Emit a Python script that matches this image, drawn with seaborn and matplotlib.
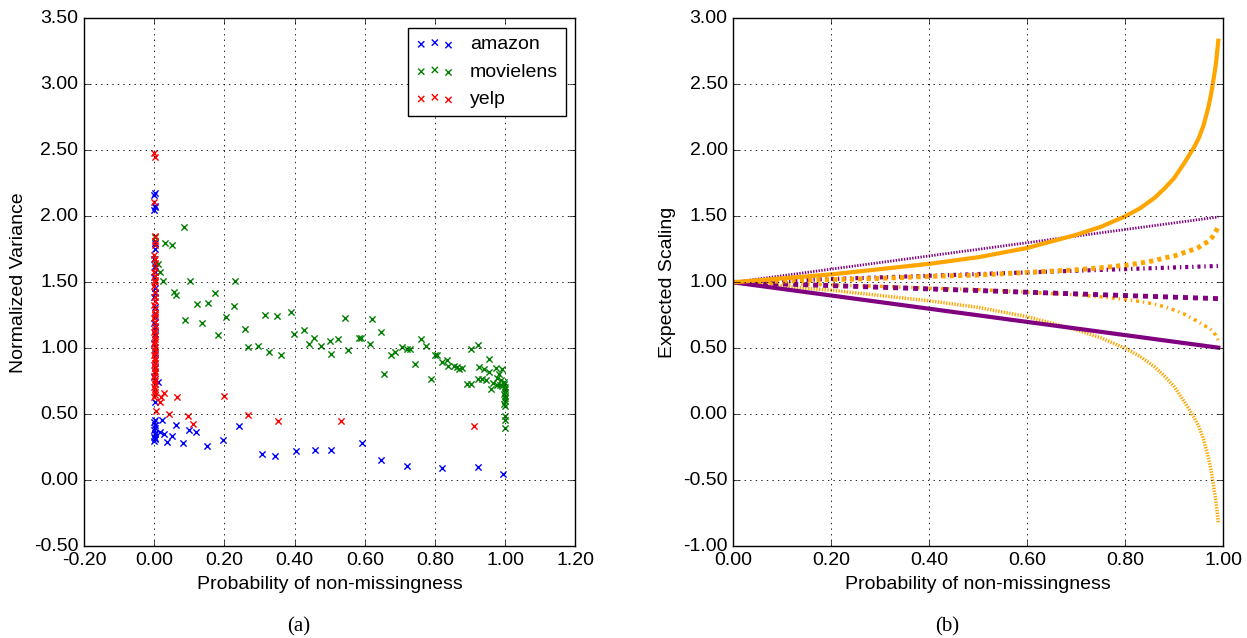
import matplotlib
matplotlib.use('Agg')
import matplotlib.pyplot as plt
import seaborn as sns
from matplotlib.ticker import FormatStrFormatter, MultipleLocator


# (a) scatter: probability of non-missingness vs normalized variance
AMAZON_X = [0.000, 0.001, 0.002, 0.000, 0.001, 0.002, 0.000, 0.001, 0.002, 0.000,
            0.001, 0.002, 0.000, 0.001, 0.002, 0.000, 0.001, 0.002, 0.000, 0.001,
            0.002, 0.000, 0.001, 0.002, 0.000, 0.001, 0.002, 0.000, 0.001, 0.002,
            0.000, 0.001, 0.002, 0.000, 0.001,
            0.012, 0.022, 0.061, 0.017, 0.029, 0.050, 0.098, 0.118, 0.037, 0.082,
            0.151, 0.196, 0.241, 0.306, 0.344, 0.403, 0.457, 0.503, 0.592, 0.645,
            0.721, 0.821, 0.921, 0.994]
AMAZON_Y = [0.30, 0.31, 0.32, 0.33, 0.35, 0.36, 0.38, 0.40, 0.42, 0.44,
            0.46, 0.59, 0.78, 0.86, 0.96, 1.04, 1.11, 1.16, 1.19, 1.24,
            1.31, 1.39, 1.42, 1.46, 1.54, 1.58, 1.62, 1.68, 1.755, 1.80,
            2.05, 2.07, 2.08, 2.16, 2.18,
            0.745, 0.455, 0.417, 0.366, 0.354, 0.336, 0.379, 0.366, 0.290, 0.285,
            0.260, 0.305, 0.410, 0.197, 0.187, 0.222, 0.227, 0.232, 0.283, 0.157,
            0.109, 0.096, 0.103, 0.045]

MOVIELENS_X = [0.002, 0.011, 0.016, 0.026, 0.032, 0.050, 0.084, 0.101, 0.230, 0.055,
               0.062, 0.172, 0.121, 0.152, 0.228, 0.087, 0.136, 0.204, 0.183, 0.259,
               0.316, 0.350, 0.390, 0.543, 0.398, 0.427, 0.454, 0.441, 0.474, 0.500,
               0.524, 0.583, 0.589, 0.552, 0.504, 0.268, 0.295, 0.327, 0.360, 0.621,
               0.615, 0.645, 0.654, 0.674, 0.686, 0.705, 0.720, 0.729, 0.742, 0.761,
               0.775, 0.788, 0.799, 0.806, 0.819, 0.833, 0.837, 0.854, 0.862, 0.869,
               0.878, 0.903, 0.923, 0.890, 0.902, 0.922, 0.924, 0.939, 0.953, 0.955,
               0.935, 0.945, 0.960, 0.966, 0.973, 0.976, 0.983, 0.990, 0.987, 0.975,
               0.985, 0.990, 0.995, 0.997, 1.000, 0.998, 1.000, 0.996, 1.000, 0.998,
               1.000, 0.997, 1.000, 1.000, 1.000, 1.000]
MOVIELENS_Y = [1.840, 1.636, 1.580, 1.510, 1.800, 1.780, 1.920, 1.510, 1.510, 1.424,
               1.407, 1.417, 1.336, 1.346, 1.320, 1.214, 1.190, 1.237, 1.098, 1.144,
               1.250, 1.245, 1.275, 1.227, 1.110, 1.136, 1.078, 1.035, 1.015, 1.058,
               1.073, 1.078, 1.080, 0.987, 0.957, 1.013, 1.015, 0.972, 0.947, 1.225,
               1.030, 1.121, 0.805, 0.947, 0.975, 1.010, 0.998, 0.998, 0.879, 1.068,
               1.015, 0.768, 0.952, 0.950, 0.894, 0.909, 0.866, 0.869, 0.859, 0.843,
               0.848, 0.992, 1.028, 0.727, 0.727, 0.770, 0.861, 0.843, 0.917, 0.820,
               0.765, 0.758, 0.692, 0.737, 0.851, 0.775, 0.805, 0.841, 0.763, 0.720,
               0.720, 0.715, 0.745, 0.730, 0.710, 0.690, 0.670, 0.655, 0.640, 0.620,
               0.600, 0.580, 0.560, 0.487, 0.455, 0.400]

YELP_X = [0.000, 0.001, 0.002, 0.003, 0.000, 0.001, 0.002, 0.003, 0.000, 0.001,
          0.002, 0.003, 0.000, 0.001, 0.002, 0.003, 0.000, 0.001, 0.002, 0.003,
          0.000, 0.001, 0.002, 0.003, 0.000, 0.001, 0.002, 0.003, 0.000, 0.001,
          0.002, 0.003, 0.000, 0.001, 0.002, 0.003, 0.000, 0.001, 0.002, 0.003,
          0.000, 0.001, 0.002, 0.003, 0.000, 0.001, 0.002, 0.003, 0.000, 0.001,
          0.000,
          0.004, 0.016, 0.020, 0.029, 0.041, 0.066, 0.096, 0.111, 0.198, 0.267,
          0.352, 0.533, 0.910]
YELP_Y = [0.63, 0.65, 0.67, 0.69, 0.71, 0.73, 0.75, 0.77, 0.79, 0.81,
          0.83, 0.85, 0.87, 0.89, 0.91, 0.93, 0.95, 0.97, 0.99, 1.01,
          1.03, 1.05, 1.07, 1.09, 1.12, 1.14, 1.17, 1.20, 1.23, 1.25,
          1.27, 1.30, 1.33, 1.36, 1.39, 1.43, 1.47, 1.50, 1.52, 1.55,
          1.58, 1.61, 1.65, 1.68, 1.71, 1.78, 1.81, 1.85, 2.11, 2.45,
          2.48,
          0.525, 0.590, 0.630, 0.660, 0.505, 0.630, 0.487, 0.430, 0.640, 0.495,
          0.447, 0.449, 0.414]

# (b) expected scaling curves
P_GRID = [0.0, 0.1, 0.2, 0.3, 0.4, 0.5, 0.6, 0.7, 0.75, 0.8, 0.83, 0.86, 0.88,
          0.9, 0.92, 0.94, 0.95, 0.96, 0.97, 0.975, 0.98, 0.985, 0.99]
ORANGE_SOLID = [1.00, 1.03, 1.06, 1.10, 1.14, 1.19, 1.26, 1.36, 1.42, 1.50, 1.56,
                1.64, 1.71, 1.79, 1.90, 2.02, 2.09, 2.19, 2.33, 2.42, 2.53, 2.65,
                2.83]
ORANGE_DOTTED = [1.00, 0.97, 0.94, 0.90, 0.86, 0.81, 0.74, 0.64, 0.58, 0.50, 0.44,
                 0.36, 0.29, 0.21, 0.10, -0.02, -0.09, -0.19, -0.33, -0.42, -0.53,
                 -0.65, -0.82]
ORANGE_DASHED = [1.00, 1.01, 1.02, 1.03, 1.045, 1.055, 1.075, 1.095, 1.11, 1.13,
                 1.145, 1.165, 1.185, 1.20, 1.225, 1.25, 1.265, 1.29, 1.31, 1.33,
                 1.355, 1.385, 1.425]
ORANGE_DASHDOT = [1.00, 0.99, 0.98, 0.97, 0.955, 0.945, 0.925, 0.905, 0.89, 0.87,
                  0.855, 0.835, 0.815, 0.79, 0.76, 0.72, 0.70, 0.675, 0.655, 0.64,
                  0.62, 0.60, 0.56]
PURPLE_SOLID = [1.00, 0.95, 0.90, 0.85, 0.80, 0.75, 0.70, 0.65, 0.625, 0.60, 0.585,
                0.57, 0.56, 0.55, 0.54, 0.53, 0.525, 0.52, 0.515, 0.5125, 0.51,
                0.5075, 0.505]
PURPLE_DOTTED = [1.00, 1.05, 1.10, 1.15, 1.20, 1.25, 1.30, 1.35, 1.375, 1.40, 1.415,
                 1.43, 1.44, 1.45, 1.46, 1.47, 1.475, 1.48, 1.485, 1.4875, 1.49,
                 1.4925, 1.495]
PURPLE_DASHDOT = [1.00, 1.0125, 1.025, 1.0375, 1.05, 1.0625, 1.075, 1.0875, 1.094,
                  1.10, 1.104, 1.1075, 1.11, 1.1125, 1.115, 1.1175, 1.119, 1.12,
                  1.121, 1.122, 1.1225, 1.123, 1.124]
PURPLE_DASHED = [1.00, 0.9875, 0.975, 0.9625, 0.95, 0.9375, 0.925, 0.9125, 0.906,
                 0.90, 0.896, 0.8925, 0.89, 0.8875, 0.885, 0.8825, 0.881, 0.88,
                 0.879, 0.878, 0.8775, 0.877, 0.876]

XLABEL = 'Probability of non-missingness'


def style_axes(ax):
    ax.grid(True, color='black', linestyle=':', linewidth=0.6)
    ax.xaxis.set_major_formatter(FormatStrFormatter('%.2f'))
    ax.yaxis.set_major_formatter(FormatStrFormatter('%.2f'))
    ax.set_xlabel(XLABEL)


def plot_scatter(ax):
    series = [
        (AMAZON_X, AMAZON_Y, 'b', 'amazon'),
        (MOVIELENS_X, MOVIELENS_Y, 'g', 'movielens'),
        (YELP_X, YELP_Y, 'r', 'yelp'),
    ]
    for xs, ys, color, name in series:
        sns.scatterplot(x=xs, y=ys, ax=ax, marker='x', color=color, s=20,
                        linewidth=1.0, label=name, legend=False)
    ax.set_xlim(-0.2, 1.2)
    ax.set_ylim(-0.5, 3.5)
    ax.xaxis.set_major_locator(MultipleLocator(0.2))
    ax.yaxis.set_major_locator(MultipleLocator(0.5))
    style_axes(ax)
    ax.set_ylabel('Normalized Variance')
    ax.legend(loc='upper right', scatterpoints=3, fontsize=14, fancybox=False)


def plot_curves(ax):
    curves = [
        (PURPLE_DOTTED, 'purple', 2.0, (0, (1, 1))),
        (ORANGE_DOTTED, 'orange', 2.5, (0, (1, 1))),
        (PURPLE_DASHDOT, 'purple', 3.0, (0, (2.2, 2.8, 1.0, 2.8))),
        (ORANGE_DASHDOT, 'orange', 2.5, (0, (2.2, 2.8, 1.0, 2.8))),
        (PURPLE_DASHED, 'purple', 3.5, (0, (3.6, 3.6))),
        (ORANGE_DASHED, 'orange', 3.5, (0, (3.0, 3.0))),
        (PURPLE_SOLID, 'purple', 3.0, '-'),
        (ORANGE_SOLID, 'orange', 3.0, '-'),
    ]
    for ys, color, lw, ls in curves:
        sns.lineplot(x=P_GRID, y=ys, ax=ax, color=color, linewidth=lw,
                     linestyle=ls, errorbar=None, legend=False)
    ax.set_xlim(0.0, 1.0)
    ax.set_ylim(-1.0, 3.0)
    ax.xaxis.set_major_locator(MultipleLocator(0.2))
    ax.yaxis.set_major_locator(MultipleLocator(0.5))
    style_axes(ax)
    ax.set_ylabel('Expected Scaling')


def main():
    plt.style.use('classic')
    plt.rcParams['font.family'] = ['Liberation Sans', 'DejaVu Sans']
    plt.rcParams['font.size'] = 14
    plt.rcParams['axes.labelsize'] = 14
    plt.rcParams['xtick.labelsize'] = 14
    plt.rcParams['ytick.labelsize'] = 14
    plt.rcParams['figure.facecolor'] = 'white'

    fig = plt.figure(figsize=(12.47, 6.38), dpi=100)
    ax_a = fig.add_axes([0.0674, 0.1437, 0.3941, 0.8276])
    ax_b = fig.add_axes([0.5880, 0.1437, 0.3929, 0.8276])

    plot_scatter(ax_a)
    plot_curves(ax_b)

    serif = ['Liberation Serif', 'DejaVu Serif']
    fig.text(299 / 1247, 1 - 627 / 638, '(a)', ha='center', va='center',
             fontsize=15, family=serif)
    fig.text(947 / 1247, 1 - 627 / 638, '(b)', ha='center', va='center',
             fontsize=15, family=serif)

    fig.savefig('out.png', dpi=100, facecolor='white')


if __name__ == '__main__':
    main()
